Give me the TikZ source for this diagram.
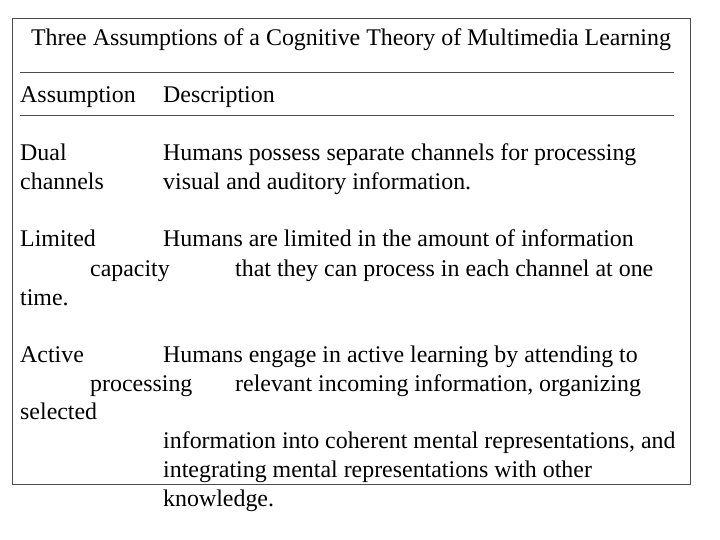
\documentclass[tikz,border=0pt]{standalone}
\usepackage{fontspec}
\setmainfont{Liberation Serif}
\usetikzlibrary{positioning}
\begin{document}
\begin{tikzpicture}
[
x=1pt, y=-1pt,
text-a/.style={anchor=base west,inner sep=0pt,font=\fontsize{23.9}{28}\selectfont},
]
\useasboundingbox (0,0) rectangle (720,540);
\draw [black!70] (12,18) rectangle (690,484);
\draw [black!70] (20,72) -- (674,72);
\draw [black!70] (20,115) -- (674,115);
\node (title) [text-a, anchor=base] at (351,46) {Three Assumptions of a Cognitive Theory of Multimedia Learning};
\node (ha) [text-a] at (20,103)  {Assumption};
\node (hd) [text-a] at (163,103) {Description};
% dual channels
\node (a1) [text-a] at (20,161)  {Dual};
\node (a2) [text-a] at (20,190)  {channels};
\node (d1) [text-a] at (163,161) {Humans possess separate channels for processing};
\node (d2) [text-a] at (163,190) {visual and auditory information.};
% limited capacity
\node (b1) [text-a] at (20,247)  {Limited};
\node (e1) [text-a] at (163,247) {Humans are limited in the amount of information};
\node (b2) [text-a] at (90,276)  {capacity};
\node (e2) [text-a] at (235,276) {that they can process in each channel at one};
\node (b3) [text-a] at (20,305)  {time.};
% active processing
\node (c1) [text-a] at (20,362)  {Active};
\node (f1) [text-a] at (163,362) {Humans engage in active learning by attending to};
\node (c2) [text-a] at (90,391)  {processing};
\node (f2) [text-a] at (235,391) {relevant incoming information, organizing};
\node (c3) [text-a] at (20,419)  {selected};
\node (f3) [text-a] at (163,448) {information into coherent mental representations, and};
\node (f4) [text-a] at (163,477) {integrating mental representations with other};
\node (f5) [text-a] at (163,506) {knowledge.};
\end{tikzpicture}
\end{document}
